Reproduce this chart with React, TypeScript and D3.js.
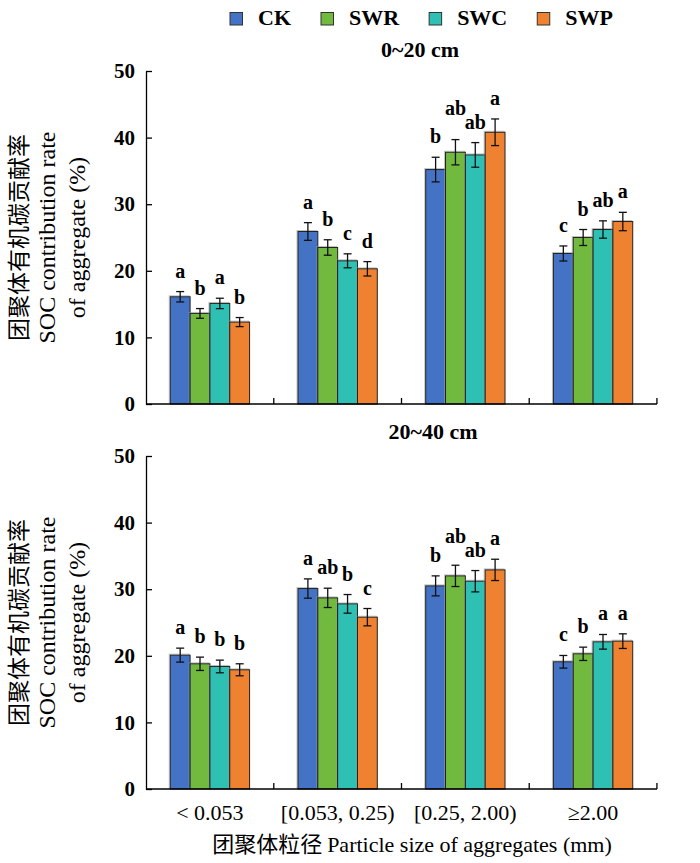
import React, { useRef, useEffect } from 'react';
import * as d3 from 'd3';

// categories and series
const groups = ['< 0.053', '[0.053, 0.25)', '[0.25, 2.00)', '≥2.00'];
const treatments = ['CK', 'SWR', 'SWC', 'SWP'];
const colors = ['#4472C4', '#72B93F', '#2FC0B4', '#EE8230'];
const yTicks = [0, 10, 20, 30, 40, 50];

// 0~20 cm
const topMean = [
  [16.1, 25.9, 35.2, 22.6],
  [13.6, 23.5, 37.8, 25.0],
  [15.1, 21.5, 37.4, 26.2],
  [12.3, 20.3, 40.8, 27.4],
];
const topErr = [
  [0.78, 1.33, 1.85, 1.13],
  [0.73, 1.16, 1.9, 1.2],
  [0.78, 1.05, 1.85, 1.3],
  [0.68, 1.08, 2.0, 1.38],
];
const topLetters = [
  ['a', 'a', 'b', 'c'],
  ['b', 'b', 'ab', 'b'],
  ['a', 'c', 'ab', 'ab'],
  ['b', 'd', 'a', 'a'],
];

// 20~40 cm
const bottomMean = [
  [20.1, 30.1, 30.5, 19.1],
  [18.8, 28.7, 32.0, 20.3],
  [18.4, 27.8, 31.2, 22.1],
  [17.9, 25.8, 32.9, 22.2],
];
const bottomErr = [
  [1.05, 1.45, 1.5, 0.95],
  [1.0, 1.45, 1.6, 1.0],
  [0.95, 1.4, 1.6, 1.1],
  [0.9, 1.3, 1.6, 1.1],
];
const bottomLetters = [
  ['a', 'a', 'b', 'c'],
  ['b', 'ab', 'ab', 'b'],
  ['b', 'b', 'ab', 'a'],
  ['b', 'c', 'a', 'a'],
];

const serif = '"Liberation Serif", "Noto Sans CJK SC", serif';
const cjk = '"Noto Sans CJK SC", sans-serif';

const App = () => {
  const ref = useRef<SVGSVGElement>(null);
  const width = 700;
  const height = 863;
  const left = 146;
  const right = 657;

  useEffect(() => {
    const svg = d3.select(ref.current);
    svg.selectAll('*').remove();

    const x = d3.scaleBand().domain(groups).range([left, right]).paddingInner(0.379).paddingOuter(0.19);
    const xi = d3.scaleBand().domain(treatments).range([0, x.bandwidth()]);

    // legend
    let lx = 230;
    treatments.forEach((t, i) => {
      svg.append('rect')
        .attr('x', lx).attr('y', 12.5).attr('width', 12.5).attr('height', 12.5)
        .attr('fill', colors[i]).attr('stroke', '#333').attr('stroke-width', 1);
      const txt = svg.append('text')
        .attr('x', lx + 28).attr('y', 25)
        .style('font-family', serif).style('font-weight', 'bold').style('font-size', '22px')
        .text(t);
      const w = (txt.node() as SVGTextElement).getComputedTextLength();
      lx = lx + 28 + w + 30;
    });

    const panels = [
      { title: '0~20 cm', tx: 420, ty: 57, top: 71, bottom: 404, mean: topMean, err: topErr, letters: topLetters, labels: false },
      { title: '20~40 cm', tx: 433, ty: 439, top: 456, bottom: 789, mean: bottomMean, err: bottomErr, letters: bottomLetters, labels: true },
    ];

    panels.forEach(p => {
      const g = svg.append('g');
      const y = d3.scaleLinear().domain([0, 50]).range([p.bottom, p.top]);

      g.append('text')
        .attr('x', p.tx).attr('y', p.ty).attr('text-anchor', 'middle')
        .style('font-family', serif).style('font-weight', 'bold').style('font-size', '22px')
        .text(p.title);

      // bars (with the faint grey shadow of the original)
      treatments.forEach((t, ti) => {
        groups.forEach((grp, gi) => {
          const v = p.mean[ti][gi];
          const bx = (x(grp) as number) + (xi(t) as number);
          g.append('rect')
            .attr('x', bx - 1).attr('y', y(v) - 1)
            .attr('width', xi.bandwidth()).attr('height', y(0) - y(v))
            .attr('fill', 'none').attr('stroke', '#999').attr('stroke-width', 1).attr('opacity', 0.6);
          g.append('rect')
            .attr('x', bx).attr('y', y(v))
            .attr('width', xi.bandwidth()).attr('height', y(0) - y(v))
            .attr('fill', colors[ti]).attr('stroke', '#222').attr('stroke-width', 1);
        });
      });

      // error bars
      treatments.forEach((t, ti) => {
        groups.forEach((grp, gi) => {
          const v = p.mean[ti][gi];
          const e = p.err[ti][gi];
          const cx = (x(grp) as number) + (xi(t) as number) + xi.bandwidth() / 2;
          const eg = g.append('g').attr('stroke', '#111').attr('stroke-width', 1.3);
          eg.append('line').attr('x1', cx).attr('x2', cx).attr('y1', y(v + e)).attr('y2', y(v - e));
          eg.append('line').attr('x1', cx - 4).attr('x2', cx + 4).attr('y1', y(v + e)).attr('y2', y(v + e));
          eg.append('line').attr('x1', cx - 4).attr('x2', cx + 4).attr('y1', y(v - e)).attr('y2', y(v - e));
        });
      });

      // significance letters, lifted where neighbours collide
      groups.forEach((grp, gi) => {
        const items = treatments.map((t, ti) => {
          const cx = (x(grp) as number) + (xi(t) as number) + xi.bandwidth() / 2;
          const node = g.append('text')
            .attr('x', cx).attr('text-anchor', 'middle')
            .style('font-family', serif).style('font-weight', 'bold').style('font-size', '20px')
            .text(p.letters[ti][gi]);
          const w = (node.node() as SVGTextElement).getComputedTextLength();
          return { node, cx, w, base: y(p.mean[ti][gi] + p.err[ti][gi]) - 14 };
        });
        for (let i = 0; i < items.length - 1; i++) {
          const a = items[i], b = items[i + 1];
          const hOverlap = Math.abs(a.cx - b.cx) < (a.w + b.w) / 2 + 1;
          if (hOverlap && Math.abs(a.base - b.base) < 13) {
            if (a.base < b.base) a.base = b.base - 14;
            else b.base = a.base - 14;
          }
        }
        items.forEach(it => it.node.attr('y', it.base));
      });

      // y axis
      const ya = g.append('g')
        .attr('transform', `translate(${left},0)`)
        .call(d3.axisLeft(y).tickValues(yTicks).tickSizeInner(-6).tickSizeOuter(0).tickPadding(11));
      ya.selectAll('path, line').attr('stroke', '#000').attr('stroke-width', 1.3);
      ya.selectAll('text')
        .style('font-family', serif).style('font-weight', 'bold').style('font-size', '21px').attr('fill', '#000');

      // x axis with group boundary ticks
      g.append('line')
        .attr('x1', left).attr('x2', right).attr('y1', p.bottom).attr('y2', p.bottom)
        .attr('stroke', '#000').attr('stroke-width', 1.3);
      groups.forEach(grp => {
        const bx = (x(grp) as number) + x.bandwidth() + (x.step() * x.paddingInner()) / 2;
        g.append('line')
          .attr('x1', bx).attr('x2', bx).attr('y1', p.bottom).attr('y2', p.bottom - 6)
          .attr('stroke', '#000').attr('stroke-width', 1.3);
      });

      if (p.labels) {
        groups.forEach(grp => {
          g.append('text')
            .attr('x', (x(grp) as number) + x.bandwidth() / 2).attr('y', 820)
            .attr('text-anchor', 'middle')
            .style('font-family', serif).style('font-size', '22px')
            .text(grp);
        });
      }

      // y title
      const cy = (p.top + p.bottom) / 2;
      g.append('text')
        .attr('transform', `translate(27,${cy}) rotate(-90)`)
        .attr('text-anchor', 'middle')
        .style('font-family', cjk).style('font-size', '23px')
        .text('团聚体有机碳贡献率');
      [
        { t: 'SOC contribution rate', bx: 55 },
        { t: 'of aggregate (%)', bx: 85 },
      ].forEach(l => {
        g.append('text')
          .attr('transform', `translate(${l.bx},${cy}) rotate(-90)`)
          .attr('text-anchor', 'middle')
          .style('font-family', serif).style('font-size', '24px')
          .text(l.t);
      });
    });

    const xt = svg.append('text')
      .attr('x', 412).attr('y', 852).attr('text-anchor', 'middle')
      .style('font-size', '22px');
    xt.append('tspan').style('font-family', cjk).text('团聚体粒径 ');
    xt.append('tspan').style('font-family', serif).text('Particle size of aggregates (mm)');
  }, []);

  return (
    <svg
      ref={ref}
      width={width}
      height={height}
      style={{ position: 'absolute', left: 0, top: 0, background: '#fff' }}
    ></svg>
  );
};

export default App;
